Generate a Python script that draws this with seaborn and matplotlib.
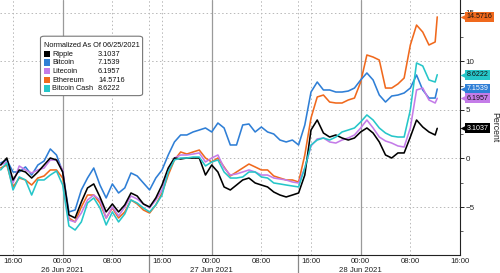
import matplotlib
matplotlib.use("Agg")
import matplotlib.pyplot as plt
import matplotlib.dates as mdates
from matplotlib.patches import FancyBboxPatch, Rectangle
from matplotlib.transforms import blended_transform_factory, offset_copy
from matplotlib.ticker import FixedLocator
import pandas as pd
import seaborn as sns

# ---------------- data ----------------
series_names = ["Ripple", "Bitcoin", "Litecoin", "Ethereum", "Bitcoin Cash"]
final_values = [3.1037, 7.1539, 6.1957, 14.5716, 8.6222]
legend_title = "Normalized As Of 06/25/2021"
times = list(pd.date_range("2021-06-25 14:00", periods=71, freq="h")) + [pd.Timestamp("2021-06-28 12:20")]

ripple = [-0.67, 0.05, -2.21, -1.18, -1.39, -2.01, -1.39, -0.67, 0.05, -0.15,
          -1.39, -5.81, -6.12, -4.48, -3.03, -2.62, -3.96, -5.50, -4.68, -5.50,
          -4.78, -3.55, -3.86, -4.68, -4.99, -4.06, -2.73, -0.98, 0.05, -0.05,
          0.05, 0.05, 0.05, -1.70, -0.67, -1.39, -2.93, -3.24, -2.73, -2.21,
          -2.01, -2.52, -2.73, -2.93, -3.45, -3.76, -3.96, -3.76, -3.55, -1.70,
          2.93, 3.96, 2.62, 2.21, 2.42, 2.11, 1.90, 2.11, 2.73, 3.14,
          2.62, 1.70, 0.36, 0.05, 0.57, 0.57, 2.21, 3.96, 3.24, 2.73,
          2.42, 3.1037]
bitcoin = [-0.46, -0.15, -1.39, -1.39, -0.87, -1.70, -0.67, -0.26, 0.98, 0.36,
           -1.39, -5.50, -5.30, -3.24, -2.01, -0.98, -2.73, -4.06, -2.62, -3.55,
           -3.03, -1.49, -1.80, -2.52, -3.24, -2.01, -1.18, 0.36, 1.70, 2.42,
           2.42, 2.73, 2.93, 3.14, 2.73, 3.65, 3.14, 1.39, 1.39, 3.45,
           3.55, 2.73, 3.24, 2.73, 2.52, 1.90, 1.70, 1.90, 1.39, 3.45,
           6.84, 7.87, 7.05, 7.05, 6.84, 6.84, 6.94, 7.25, 8.08, 8.80,
           8.08, 6.53, 5.81, 6.43, 6.53, 6.74, 7.25, 8.59, 7.05, 6.22,
           6.22, 7.1539]
litecoin = [-0.67, -0.36, -2.52, -0.77, -1.18, -1.49, -1.18, -0.98, -0.15, -0.15,
            -1.18, -6.33, -6.53, -5.61, -4.27, -3.76, -4.27, -6.12, -4.99, -5.92,
            -4.99, -3.86, -4.17, -4.68, -5.09, -4.27, -3.24, -1.18, 0.05, 0.36,
            0.36, 0.46, 0.57, -0.36, 0.05, 0.36, -0.98, -1.70, -1.59, -1.39,
            -1.18, -1.39, -1.70, -1.70, -2.01, -2.11, -2.21, -2.42, -2.52, -0.98,
            1.29, 2.01, 2.11, 1.70, 1.59, 1.90, 2.11, 2.42, 3.14, 3.96,
            3.14, 2.21, 1.80, 1.59, 1.29, 1.18, 3.14, 7.05, 7.25, 6.02,
            5.71, 6.1957]
ethereum = [-0.98, -0.67, -2.93, -2.01, -2.21, -2.73, -2.01, -1.80, -1.18, -1.18,
            -2.01, -6.12, -6.53, -4.99, -3.76, -3.76, -4.58, -6.12, -5.09, -6.12,
            -5.50, -4.27, -4.68, -5.30, -5.61, -4.78, -3.55, -1.70, -0.15, 0.67,
            0.46, 0.67, 0.87, 0.05, -0.36, 0.05, -0.87, -1.80, -1.39, -0.98,
            -0.57, -0.87, -1.18, -1.18, -1.80, -2.01, -2.21, -2.21, -2.42, 0.36,
            4.17, 6.33, 6.53, 5.81, 5.71, 5.71, 6.02, 6.22, 7.87, 10.65,
            10.44, 10.13, 7.25, 7.25, 7.67, 8.28, 11.68, 13.73, 13.01, 11.68,
            11.99, 14.5716]
bitcoin_cash = [-1.18, -0.46, -3.24, -1.90, -2.21, -3.76, -2.21, -2.21, -1.70, -1.29,
                -2.73, -6.94, -7.36, -6.53, -4.58, -4.06, -5.09, -6.84, -5.50, -6.53,
                -5.71, -4.27, -4.58, -5.09, -5.50, -4.78, -3.76, -1.39, -0.15, 0.05,
                0.05, 0.15, 0.15, -0.77, -0.36, -0.15, -1.39, -2.01, -2.01, -1.90,
                -1.39, -1.39, -1.90, -2.01, -2.52, -2.62, -2.73, -2.83, -2.93, -0.98,
                1.39, 1.90, 2.11, 1.90, 2.21, 2.73, 2.93, 3.14, 3.76, 4.48,
                3.96, 3.14, 2.62, 2.31, 2.21, 2.21, 4.99, 9.83, 9.52, 8.08,
                7.87, 8.6222]

values = {"Ripple": ripple, "Bitcoin": bitcoin, "Litecoin": litecoin,
          "Ethereum": ethereum, "Bitcoin Cash": bitcoin_cash}

x_ticks_dates = ["26 Jun 2021", "27 Jun 2021", "28 Jun 2021"]

# ---------------- style ----------------
colors = {"Ripple": "#000000", "Bitcoin": "#2f7fd6", "Litecoin": "#c47ce8",
          "Ethereum": "#f0691d", "Bitcoin Cash": "#26c6c9"}
tag_text = {"Ripple": "white", "Bitcoin": "white", "Litecoin": "#111111",
            "Ethereum": "#111111", "Bitcoin Cash": "#111111"}
draw_order = ["Ethereum", "Bitcoin", "Litecoin", "Ripple", "Bitcoin Cash"]

sns.set_style("white")
FONT = ["Liberation Sans", "DejaVu Sans"]
plt.rcParams["font.family"] = FONT

rows = []
for name in series_names:
    for t, v in zip(times, values[name]):
        rows.append({"time": t, "value": v, "series": name})
df = pd.DataFrame(rows)

fig = plt.figure(figsize=(5.0, 2.73), dpi=100)
ax = fig.add_axes([0.0, 0.066, 0.92, 0.934])

# grid
grid_c = "#b8b8b8"
for yv in [-5, 0, 5, 10, 15]:
    ax.axhline(yv, color=grid_c, ls=(0, (1.5, 2.5)), lw=0.7, zorder=0)
for t in pd.date_range("2021-06-25 16:00", "2021-06-28 16:00", freq="8h"):
    if t.hour == 0:
        ax.axvline(t, color="#9a9a9a", lw=0.9, zorder=0)
    else:
        ax.axvline(t, color=grid_c, ls=(0, (1.5, 2.5)), lw=0.7, zorder=0)
session_lines = [pd.Timestamp("2021-06-26 13:54"), pd.Timestamp("2021-06-27 13:54")]
xtr = ax.get_xaxis_transform()
for t in session_lines:
    ax.axvline(t, color=grid_c, ls=(0, (1.5, 2.5)), lw=0.7, zorder=0)
    ax.plot([t, t], [0, -0.075], transform=xtr, color="#888888", lw=0.9, clip_on=False)

sns.lineplot(data=df, x="time", y="value", hue="series", hue_order=draw_order,
             palette=colors, linewidth=1.15, legend=False, ax=ax, zorder=3)

ax.set_xlim(pd.Timestamp("2021-06-25 13:54"), pd.Timestamp("2021-06-28 16:00"))
ax.set_ylim(-9.93, 16.31)
ax.set_xlabel("")
ax.set_ylabel("")

for s in ["left", "top"]:
    ax.spines[s].set_visible(False)
for s in ["right", "bottom"]:
    ax.spines[s].set_color("#222222")
    ax.spines[s].set_linewidth(0.8)

# x axis
ax.xaxis.set_major_locator(mdates.HourLocator(byhour=[0, 8, 16]))
ax.xaxis.set_major_formatter(mdates.DateFormatter("%H:%M"))
ax.xaxis.set_minor_locator(mdates.HourLocator(interval=2))
ax.tick_params(axis="x", which="major", length=2, width=0.7, pad=0.5,
               labelsize=5.6, colors="#222222")
ax.tick_params(axis="x", which="minor", length=1.5, width=0.6, colors="#444444")
for lab, d in zip(x_ticks_dates, ["2021-06-26", "2021-06-27", "2021-06-28"]):
    ax.text(pd.Timestamp(d), -0.06, lab, transform=xtr, ha="center", va="center",
            fontsize=5.6, color="#222222")

# y axis (right)
ax.yaxis.tick_right()
ax.set_yticks([-5, 0, 5, 10, 15])
ax.yaxis.set_minor_locator(FixedLocator([-7.5, -2.5, 2.5, 7.5, 12.5]))
ax.tick_params(axis="y", which="major", length=3, width=0.7, pad=1.0,
               labelsize=5.8, colors="#222222")
ax.tick_params(axis="y", which="minor", length=2, width=0.6, colors="#444444")
fig.text(0.99, 0.535, "Percent", rotation=270, ha="center", va="center",
         fontsize=6.3, color="#222222")

# value tags on right axis
ytr = blended_transform_factory(ax.transAxes, ax.transData)
tri_tr = offset_copy(ytr, fig=fig, x=3.0, y=0, units="points")
for name, v in zip(series_names, final_values):
    ax.plot([1.0], [v], transform=tri_tr, marker="<", markersize=5.3,
            color=colors[name], mec="none", clip_on=False, zorder=7)
    ax.annotate(f"{v:.4f}", xy=(1.0, v), xycoords=ytr, xytext=(4.8, 0),
                textcoords="offset points", ha="left", va="center", fontsize=5.1,
                color=tag_text[name], annotation_clip=False, zorder=8,
                bbox=dict(boxstyle="square,pad=0.2", fc=colors[name], ec="none"))

# legend box
box = FancyBboxPatch((0.088, 0.625), 0.222, 0.233, transform=ax.transAxes,
                     boxstyle="round,pad=0,rounding_size=0.008",
                     fc="white", ec="#777777", lw=0.8, zorder=5)
ax.add_patch(box)
ax.text(0.096, 0.823, legend_title, transform=ax.transAxes, fontsize=5.3,
        va="center", ha="left", color="#111111", zorder=6)
row_y = [0.788, 0.755, 0.721, 0.686, 0.652]
for name, v, yy in zip(series_names, final_values, row_y):
    ax.add_patch(Rectangle((0.096, yy - 0.013), 0.012, 0.026, transform=ax.transAxes,
                           fc=colors[name], ec="none", zorder=6))
    ax.text(0.113, yy, name, transform=ax.transAxes, fontsize=5.3, va="center",
            ha="left", color="#111111", zorder=6)
    ax.text(0.213, yy, f"{v:.4f}", transform=ax.transAxes, fontsize=5.3,
            va="center", ha="left", color="#111111", zorder=6)

fig.savefig("out.png", dpi=100)
